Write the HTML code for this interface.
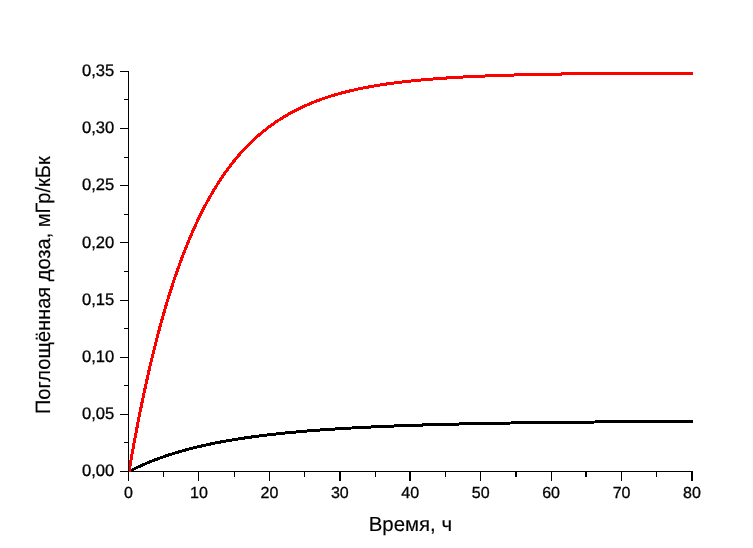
<!DOCTYPE html>
<html lang="ru"><head><meta charset="utf-8"><title>Поглощённая доза</title>
<style>
html,body{margin:0;padding:0;background:#fff;}
body{width:753px;height:548px;overflow:hidden;}
svg{display:block;will-change:transform;}
text{text-rendering:geometricPrecision;stroke:#000;}
g{stroke-width:0.3px;}
</style></head><body>
<svg width="753" height="548" viewBox="0 0 753 548">
<rect width="753" height="548" fill="#fff"/>
<g fill="#000" shape-rendering="crispEdges">
<rect x="128" y="71" width="1" height="401"/>
<rect x="128" y="471" width="565" height="1"/>
<rect x="128" y="472" width="1" height="9"/>
<rect x="163" y="472" width="1" height="5"/>
<rect x="198" y="472" width="1" height="9"/>
<rect x="234" y="472" width="1" height="5"/>
<rect x="269" y="472" width="1" height="9"/>
<rect x="304" y="472" width="1" height="5"/>
<rect x="339" y="472" width="2" height="9"/>
<rect x="375" y="472" width="1" height="5"/>
<rect x="409" y="472" width="2" height="9"/>
<rect x="445" y="472" width="1" height="5"/>
<rect x="480" y="472" width="1" height="9"/>
<rect x="515" y="472" width="2" height="5"/>
<rect x="551" y="472" width="1" height="9"/>
<rect x="585" y="472" width="2" height="5"/>
<rect x="621" y="472" width="1" height="9"/>
<rect x="656" y="472" width="1" height="5"/>
<rect x="691" y="472" width="2" height="9"/>
<rect x="120" y="71" width="8" height="1"/>
<rect x="124" y="99" width="4" height="1"/>
<rect x="120" y="128" width="8" height="1"/>
<rect x="124" y="157" width="4" height="1"/>
<rect x="120" y="185" width="8" height="1"/>
<rect x="124" y="214" width="4" height="1"/>
<rect x="120" y="242" width="8" height="1"/>
<rect x="124" y="271" width="4" height="1"/>
<rect x="120" y="300" width="8" height="1"/>
<rect x="124" y="328" width="4" height="1"/>
<rect x="120" y="357" width="8" height="1"/>
<rect x="124" y="385" width="4" height="1"/>
<rect x="120" y="414" width="8" height="1"/>
<rect x="124" y="442" width="4" height="1"/>
<rect x="120" y="471" width="8" height="1"/>
</g>
<clipPath id="plotclip"><rect x="129" y="60" width="564" height="412"/></clipPath>
<g clip-path="url(#plotclip)">
<polyline points="129.00,471.50 130.41,470.77 131.82,470.06 133.23,469.36 134.63,468.67 136.04,467.99 137.45,467.33 138.86,466.67 140.27,466.02 141.68,465.39 143.09,464.76 144.50,464.15 145.91,463.55 147.31,462.95 148.72,462.37 150.13,461.79 151.54,461.22 152.95,460.67 154.36,460.12 155.77,459.58 157.18,459.05 158.58,458.53 159.99,458.01 161.40,457.51 162.81,457.01 164.22,456.52 165.63,456.04 167.04,455.56 168.44,455.09 169.85,454.63 171.26,454.18 172.67,453.73 174.08,453.30 175.49,452.86 176.90,452.44 178.31,452.02 179.72,451.61 181.12,451.20 182.53,450.80 183.94,450.41 185.35,450.02 186.76,449.64 188.17,449.26 189.58,448.89 190.99,448.53 192.39,448.17 193.80,447.81 195.21,447.46 196.62,447.12 198.03,446.78 199.44,446.45 200.85,446.12 202.25,445.80 203.66,445.48 205.07,445.16 206.48,444.85 207.89,444.55 209.30,444.25 210.71,443.95 212.12,443.66 213.53,443.37 214.93,443.09 216.34,442.81 217.75,442.54 219.16,442.27 220.57,442.00 221.98,441.74 223.39,441.48 224.80,441.22 226.20,440.97 227.61,440.72 229.02,440.47 230.43,440.23 231.84,439.99 233.25,439.76 234.66,439.53 236.06,439.30 237.47,439.07 238.88,438.85 240.29,438.63 241.70,438.42 243.11,438.20 244.52,437.99 245.93,437.79 247.34,437.58 248.74,437.38 250.15,437.18 251.56,436.99 252.97,436.79 254.38,436.60 255.79,436.41 257.20,436.23 258.61,436.05 260.01,435.87 261.42,435.69 262.83,435.51 264.24,435.34 265.65,435.17 267.06,435.00 268.47,434.83 269.88,434.67 271.28,434.51 272.69,434.35 274.10,434.19 275.51,434.03 276.92,433.88 278.33,433.73 279.74,433.58 281.14,433.43 282.55,433.28 283.96,433.14 285.37,433.00 286.78,432.86 288.19,432.72 289.60,432.58 291.01,432.45 292.41,432.31 293.82,432.18 295.23,432.05 296.64,431.92 298.05,431.80 299.46,431.67 300.87,431.55 302.28,431.43 303.69,431.31 305.09,431.19 306.50,431.07 307.91,430.96 309.32,430.84 310.73,430.73 312.14,430.62 313.55,430.51 314.95,430.40 316.36,430.29 317.77,430.19 319.18,430.08 320.59,429.98 322.00,429.88 323.41,429.77 324.82,429.67 326.23,429.58 327.63,429.48 329.04,429.38 330.45,429.29 331.86,429.19 333.27,429.10 334.68,429.01 336.09,428.92 337.50,428.83 338.90,428.74 340.31,428.66 341.72,428.57 343.13,428.48 344.54,428.40 345.95,428.32 347.36,428.24 348.76,428.15 350.17,428.07 351.58,428.00 352.99,427.92 354.40,427.84 355.81,427.76 357.22,427.69 358.63,427.61 360.03,427.54 361.44,427.47 362.85,427.40 364.26,427.32 365.67,427.25 367.08,427.18 368.49,427.12 369.90,427.05 371.31,426.98 372.71,426.91 374.12,426.85 375.53,426.78 376.94,426.72 378.35,426.66 379.76,426.59 381.17,426.53 382.58,426.47 383.98,426.41 385.39,426.35 386.80,426.29 388.21,426.23 389.62,426.18 391.03,426.12 392.44,426.06 393.85,426.01 395.25,425.95 396.66,425.90 398.07,425.84 399.48,425.79 400.89,425.74 402.30,425.69 403.71,425.63 405.12,425.58 406.52,425.53 407.93,425.48 409.34,425.43 410.75,425.39 412.16,425.34 413.57,425.29 414.98,425.24 416.38,425.20 417.79,425.15 419.20,425.10 420.61,425.06 422.02,425.02 423.43,424.97 424.84,424.93 426.25,424.88 427.65,424.84 429.06,424.80 430.47,424.76 431.88,424.72 433.29,424.68 434.70,424.64 436.11,424.60 437.52,424.56 438.93,424.52 440.33,424.48 441.74,424.44 443.15,424.40 444.56,424.37 445.97,424.33 447.38,424.29 448.79,424.26 450.19,424.22 451.60,424.19 453.01,424.15 454.42,424.12 455.83,424.08 457.24,424.05 458.65,424.02 460.06,423.98 461.47,423.95 462.87,423.92 464.28,423.89 465.69,423.85 467.10,423.82 468.51,423.79 469.92,423.76 471.33,423.73 472.74,423.70 474.14,423.67 475.55,423.64 476.96,423.61 478.37,423.58 479.78,423.55 481.19,423.53 482.60,423.50 484.00,423.47 485.41,423.44 486.82,423.42 488.23,423.39 489.64,423.36 491.05,423.34 492.46,423.31 493.87,423.29 495.28,423.26 496.68,423.24 498.09,423.21 499.50,423.19 500.91,423.16 502.32,423.14 503.73,423.11 505.14,423.09 506.55,423.07 507.95,423.05 509.36,423.02 510.77,423.00 512.18,422.98 513.59,422.96 515.00,422.93 516.41,422.91 517.82,422.89 519.22,422.87 520.63,422.85 522.04,422.83 523.45,422.81 524.86,422.79 526.27,422.77 527.68,422.75 529.09,422.73 530.49,422.71 531.90,422.69 533.31,422.67 534.72,422.65 536.13,422.63 537.54,422.61 538.95,422.60 540.36,422.58 541.76,422.56 543.17,422.54 544.58,422.53 545.99,422.51 547.40,422.49 548.81,422.47 550.22,422.46 551.62,422.44 553.03,422.42 554.44,422.41 555.85,422.39 557.26,422.38 558.67,422.36 560.08,422.34 561.49,422.33 562.89,422.31 564.30,422.30 565.71,422.28 567.12,422.27 568.53,422.25 569.94,422.24 571.35,422.22 572.76,422.21 574.16,422.20 575.57,422.18 576.98,422.17 578.39,422.16 579.80,422.14 581.21,422.13 582.62,422.12 584.03,422.10 585.43,422.09 586.84,422.08 588.25,422.06 589.66,422.05 591.07,422.04 592.48,422.03 593.89,422.01 595.30,422.00 596.71,421.99 598.11,421.98 599.52,421.97 600.93,421.96 602.34,421.94 603.75,421.93 605.16,421.92 606.57,421.91 607.98,421.90 609.38,421.89 610.79,421.88 612.20,421.87 613.61,421.86 615.02,421.85 616.43,421.84 617.84,421.83 619.24,421.81 620.65,421.80 622.06,421.79 623.47,421.79 624.88,421.78 626.29,421.77 627.70,421.76 629.11,421.75 630.52,421.74 631.92,421.73 633.33,421.72 634.74,421.71 636.15,421.70 637.56,421.69 638.97,421.68 640.38,421.67 641.78,421.67 643.19,421.66 644.60,421.65 646.01,421.64 647.42,421.63 648.83,421.62 650.24,421.62 651.65,421.61 653.06,421.60 654.46,421.59 655.87,421.58 657.28,421.58 658.69,421.57 660.10,421.56 661.51,421.55 662.92,421.55 664.33,421.54 665.73,421.53 667.14,421.53 668.55,421.52 669.96,421.51 671.37,421.50 672.78,421.50 674.19,421.49 675.60,421.48 677.00,421.48 678.41,421.47 679.82,421.46 681.23,421.46 682.64,421.45 684.05,421.44 685.46,421.44 686.87,421.43 688.27,421.43 689.68,421.42 691.09,421.41 692.50,421.41" fill="none" stroke="#000" stroke-width="3" stroke-linejoin="round" shape-rendering="crispEdges"/>
<polyline points="129.00,471.50 130.41,463.37 131.82,455.41 133.23,447.62 134.63,439.99 136.04,432.52 137.45,425.20 138.86,418.03 140.27,411.01 141.68,404.14 143.09,397.41 144.50,390.82 145.91,384.37 147.31,378.05 148.72,371.86 150.13,365.80 151.54,359.87 152.95,354.05 154.36,348.36 155.77,342.79 157.18,337.33 158.58,331.98 159.99,326.75 161.40,321.62 162.81,316.60 164.22,311.68 165.63,306.86 167.04,302.15 168.44,297.53 169.85,293.00 171.26,288.57 172.67,284.23 174.08,279.98 175.49,275.82 176.90,271.74 178.31,267.75 179.72,263.84 181.12,260.01 182.53,256.26 183.94,252.58 185.35,248.98 186.76,245.46 188.17,242.00 189.58,238.62 190.99,235.31 192.39,232.06 193.80,228.88 195.21,225.77 196.62,222.72 198.03,219.73 199.44,216.81 200.85,213.94 202.25,211.13 203.66,208.38 205.07,205.69 206.48,203.05 207.89,200.47 209.30,197.93 210.71,195.45 212.12,193.02 213.53,190.64 214.93,188.31 216.34,186.03 217.75,183.79 219.16,181.60 220.57,179.45 221.98,177.35 223.39,175.28 224.80,173.26 226.20,171.29 227.61,169.35 229.02,167.45 230.43,165.59 231.84,163.77 233.25,161.98 234.66,160.23 236.06,158.52 237.47,156.84 238.88,155.19 240.29,153.58 241.70,152.00 243.11,150.45 244.52,148.93 245.93,147.45 247.34,145.99 248.74,144.57 250.15,143.17 251.56,141.80 252.97,140.46 254.38,139.14 255.79,137.85 257.20,136.59 258.61,135.35 260.01,134.14 261.42,132.95 262.83,131.79 264.24,130.64 265.65,129.53 267.06,128.43 268.47,127.36 269.88,126.30 271.28,125.27 272.69,124.26 274.10,123.27 275.51,122.30 276.92,121.35 278.33,120.41 279.74,119.50 281.14,118.60 282.55,117.73 283.96,116.87 285.37,116.02 286.78,115.20 288.19,114.39 289.60,113.59 291.01,112.81 292.41,112.05 293.82,111.30 295.23,110.57 296.64,109.85 298.05,109.15 299.46,108.46 300.87,107.78 302.28,107.11 303.69,106.46 305.09,105.83 306.50,105.20 307.91,104.59 309.32,103.99 310.73,103.40 312.14,102.82 313.55,102.26 314.95,101.70 316.36,101.16 317.77,100.62 319.18,100.10 320.59,99.59 322.00,99.08 323.41,98.59 324.82,98.11 326.23,97.63 327.63,97.17 329.04,96.71 330.45,96.27 331.86,95.83 333.27,95.40 334.68,94.98 336.09,94.57 337.50,94.16 338.90,93.76 340.31,93.37 341.72,92.99 343.13,92.62 344.54,92.25 345.95,91.89 347.36,91.54 348.76,91.19 350.17,90.85 351.58,90.52 352.99,90.19 354.40,89.87 355.81,89.56 357.22,89.25 358.63,88.94 360.03,88.65 361.44,88.36 362.85,88.07 364.26,87.79 365.67,87.52 367.08,87.25 368.49,86.98 369.90,86.72 371.31,86.47 372.71,86.22 374.12,85.98 375.53,85.74 376.94,85.50 378.35,85.27 379.76,85.04 381.17,84.82 382.58,84.60 383.98,84.39 385.39,84.18 386.80,83.97 388.21,83.77 389.62,83.57 391.03,83.38 392.44,83.18 393.85,83.00 395.25,82.81 396.66,82.63 398.07,82.46 399.48,82.28 400.89,82.11 402.30,81.94 403.71,81.78 405.12,81.62 406.52,81.46 407.93,81.30 409.34,81.15 410.75,81.00 412.16,80.86 413.57,80.71 414.98,80.57 416.38,80.43 417.79,80.30 419.20,80.16 420.61,80.03 422.02,79.90 423.43,79.78 424.84,79.65 426.25,79.53 427.65,79.41 429.06,79.29 430.47,79.18 431.88,79.06 433.29,78.95 434.70,78.84 436.11,78.74 437.52,78.63 438.93,78.53 440.33,78.43 441.74,78.33 443.15,78.23 444.56,78.13 445.97,78.04 447.38,77.95 448.79,77.86 450.19,77.77 451.60,77.68 453.01,77.59 454.42,77.51 455.83,77.43 457.24,77.34 458.65,77.26 460.06,77.19 461.47,77.11 462.87,77.03 464.28,76.96 465.69,76.88 467.10,76.81 468.51,76.74 469.92,76.67 471.33,76.60 472.74,76.54 474.14,76.47 475.55,76.41 476.96,76.34 478.37,76.28 479.78,76.22 481.19,76.16 482.60,76.10 484.00,76.04 485.41,75.99 486.82,75.93 488.23,75.88 489.64,75.82 491.05,75.77 492.46,75.72 493.87,75.67 495.28,75.61 496.68,75.57 498.09,75.52 499.50,75.47 500.91,75.42 502.32,75.38 503.73,75.33 505.14,75.29 506.55,75.24 507.95,75.20 509.36,75.16 510.77,75.12 512.18,75.07 513.59,75.03 515.00,74.99 516.41,74.96 517.82,74.92 519.22,74.88 520.63,74.84 522.04,74.81 523.45,74.77 524.86,74.74 526.27,74.70 527.68,74.67 529.09,74.63 530.49,74.60 531.90,74.57 533.31,74.54 534.72,74.51 536.13,74.48 537.54,74.45 538.95,74.42 540.36,74.39 541.76,74.36 543.17,74.33 544.58,74.30 545.99,74.28 547.40,74.25 548.81,74.22 550.22,74.20 551.62,74.17 553.03,74.15 554.44,74.12 555.85,74.10 557.26,74.07 558.67,74.05 560.08,74.03 561.49,74.01 562.89,73.98 564.30,73.96 565.71,73.94 567.12,73.92 568.53,73.90 569.94,73.88 571.35,73.86 572.76,73.84 574.16,73.82 575.57,73.80 576.98,73.78 578.39,73.76 579.80,73.74 581.21,73.73 582.62,73.71 584.03,73.69 585.43,73.67 586.84,73.66 588.25,73.64 589.66,73.62 591.07,73.61 592.48,73.59 593.89,73.58 595.30,73.56 596.71,73.55 598.11,73.53 599.52,73.52 600.93,73.50 602.34,73.49 603.75,73.47 605.16,73.46 606.57,73.45 607.98,73.43 609.38,73.42 610.79,73.41 612.20,73.40 613.61,73.38 615.02,73.37 616.43,73.36 617.84,73.35 619.24,73.34 620.65,73.32 622.06,73.31 623.47,73.30 624.88,73.29 626.29,73.28 627.70,73.27 629.11,73.26 630.52,73.25 631.92,73.24 633.33,73.23 634.74,73.22 636.15,73.21 637.56,73.20 638.97,73.19 640.38,73.18 641.78,73.17 643.19,73.16 644.60,73.15 646.01,73.14 647.42,73.14 648.83,73.13 650.24,73.12 651.65,73.11 653.06,73.10 654.46,73.10 655.87,73.09 657.28,73.08 658.69,73.07 660.10,73.07 661.51,73.06 662.92,73.05 664.33,73.05 665.73,73.05 667.14,73.05 668.55,73.05 669.96,73.05 671.37,73.05 672.78,73.05 674.19,73.05 675.60,73.05 677.00,73.05 678.41,73.05 679.82,73.05 681.23,73.05 682.64,73.05 684.05,73.05 685.46,73.05 686.87,73.05 688.27,73.05 689.68,73.05 691.09,73.05 692.50,73.05" fill="none" stroke="#f00" stroke-width="3" stroke-linejoin="round" shape-rendering="crispEdges"/>
</g>
<g font-family="'Liberation Sans', Arial, sans-serif" font-size="16" fill="#000">
<text x="128.5" y="497.8" text-anchor="middle">0</text>
<text x="198.9" y="497.8" text-anchor="middle">10</text>
<text x="269.4" y="497.8" text-anchor="middle">20</text>
<text x="339.8" y="497.8" text-anchor="middle">30</text>
<text x="410.2" y="497.8" text-anchor="middle">40</text>
<text x="480.7" y="497.8" text-anchor="middle">50</text>
<text x="551.1" y="497.8" text-anchor="middle">60</text>
<text x="621.6" y="497.8" text-anchor="middle">70</text>
<text x="692.0" y="497.8" text-anchor="middle">80</text>
</g>
<g font-family="'Liberation Sans', Arial, sans-serif" font-size="16.6" fill="#000">
<text x="114.3" y="476.1" text-anchor="end">0,00</text>
<text x="114.3" y="419.0" text-anchor="end">0,05</text>
<text x="114.3" y="361.8" text-anchor="end">0,10</text>
<text x="114.3" y="304.7" text-anchor="end">0,15</text>
<text x="114.3" y="247.5" text-anchor="end">0,20</text>
<text x="114.3" y="190.4" text-anchor="end">0,25</text>
<text x="114.3" y="133.2" text-anchor="end">0,30</text>
<text x="114.3" y="76.1" text-anchor="end">0,35</text>
</g>
<g font-family="'Liberation Sans', Arial, sans-serif" fill="#000" style="stroke-width:0.15px">
<text x="410.4" y="530.6" font-size="20.4" text-anchor="middle">Время, ч</text>
<text transform="translate(49.7,285.2) rotate(-90) scale(1,1.035)" font-size="20.05" text-anchor="middle">Поглощённая доза, мГр/кБк</text>
</g>
</svg>
</body></html>
